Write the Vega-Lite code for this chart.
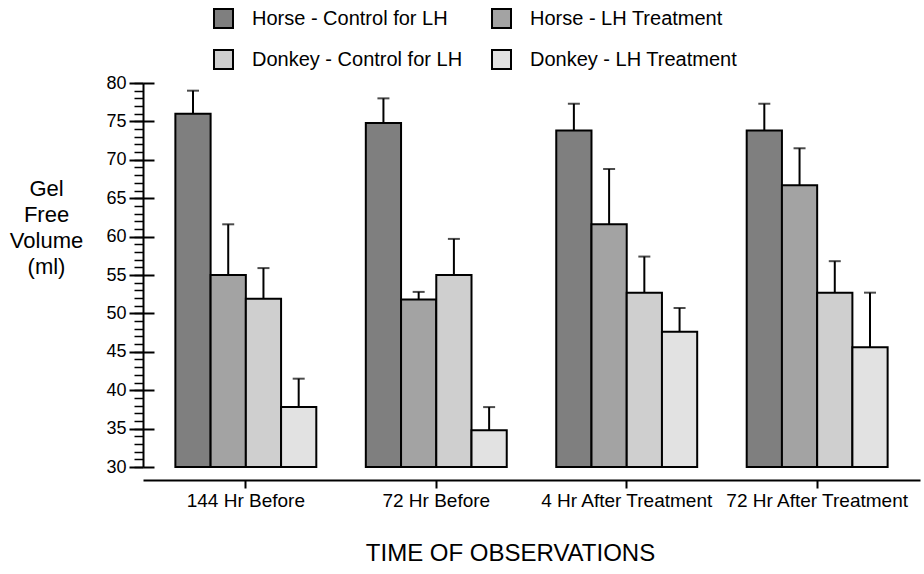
{
  "$schema": "https://vega.github.io/schema/vega-lite/v6.json",
  "autosize": {"type": "none"},
  "padding": {"left": 143, "top": 83, "right": 4, "bottom": 107},
  "width": 777,
  "height": 384,
  "background": "white",
  "config": {
    "view": {"stroke": null},
    "font": "Liberation Sans, Arial, Helvetica, sans-serif",
    "axis": {"domainColor": "black", "tickColor": "black", "labelColor": "black", "titleColor": "black", "grid": false}
  },
  "data": {
    "values": [
      {"time": "144 Hr Before", "group": "Horse - Control for LH", "value": 76, "upper": 79},
      {"time": "144 Hr Before", "group": "Horse - LH Treatment", "value": 55, "upper": 61.6},
      {"time": "144 Hr Before", "group": "Donkey - Control for LH", "value": 51.9, "upper": 55.9},
      {"time": "144 Hr Before", "group": "Donkey - LH Treatment", "value": 37.8, "upper": 41.5},
      {"time": "72 Hr Before", "group": "Horse - Control for LH", "value": 74.8, "upper": 78},
      {"time": "72 Hr Before", "group": "Horse - LH Treatment", "value": 51.8, "upper": 52.8},
      {"time": "72 Hr Before", "group": "Donkey - Control for LH", "value": 55, "upper": 59.7},
      {"time": "72 Hr Before", "group": "Donkey - LH Treatment", "value": 34.8, "upper": 37.8},
      {"time": "4 Hr After Treatment", "group": "Horse - Control for LH", "value": 73.8, "upper": 77.3},
      {"time": "4 Hr After Treatment", "group": "Horse - LH Treatment", "value": 61.6, "upper": 68.8},
      {"time": "4 Hr After Treatment", "group": "Donkey - Control for LH", "value": 52.7, "upper": 57.4},
      {"time": "4 Hr After Treatment", "group": "Donkey - LH Treatment", "value": 47.6, "upper": 50.7},
      {"time": "72 Hr After Treatment", "group": "Horse - Control for LH", "value": 73.8, "upper": 77.3},
      {"time": "72 Hr After Treatment", "group": "Horse - LH Treatment", "value": 66.7, "upper": 71.5},
      {"time": "72 Hr After Treatment", "group": "Donkey - Control for LH", "value": 52.7, "upper": 56.8},
      {"time": "72 Hr After Treatment", "group": "Donkey - LH Treatment", "value": 45.6, "upper": 52.7}
    ]
  },
  "encoding": {
    "x": {
      "field": "time", "type": "nominal",
      "sort": ["144 Hr Before", "72 Hr Before", "4 Hr After Treatment", "72 Hr After Treatment"],
      "scale": {"paddingInner": 0.26, "paddingOuter": 0.17},
      "axis": {
        "title": "TIME OF OBSERVATIONS", "titleFontSize": 24, "titleFontWeight": "normal", "titlePadding": 31,
        "titleX": 367, "titleAlign": "center",
        "labelAngle": 0, "labelFontSize": 19, "labelPadding": 3, "labelLimit": 300,
        "offset": 13, "tickSize": 8, "tickWidth": 2, "domainWidth": 2
      }
    },
    "xOffset": {
      "field": "group", "type": "nominal",
      "sort": ["Horse - Control for LH", "Horse - LH Treatment", "Donkey - Control for LH", "Donkey - LH Treatment"]
    }
  },
  "layer": [
    {
      "mark": {"type": "bar", "stroke": "black", "strokeWidth": 2},
      "encoding": {
        "y": {
          "field": "value", "type": "quantitative",
          "scale": {"domain": [30, 80], "nice": false, "zero": false},
          "axis": {
            "orient": "left",
            "title": ["Gel", "Free", "Volume", "(ml)"],
            "titleAngle": 0, "titleFontSize": 22, "titleFontWeight": "normal",
            "titleAlign": "center", "titleBaseline": "top", "titleLineHeight": 26,
            "titleX": -97, "titleY": 95,
            "values": [30, 35, 40, 45, 50, 55, 60, 65, 70, 75, 80],
            "labelFontSize": 18, "labelPadding": 3, "tickSize": 14, "tickWidth": 2, "domainWidth": 2
          }
        },
        "y2": {"datum": 30},
        "fill": {
          "field": "group", "type": "nominal",
          "sort": ["Horse - Control for LH", "Horse - LH Treatment", "Donkey - Control for LH", "Donkey - LH Treatment"],
          "scale": {"range": ["#7f7f7f", "#a3a3a3", "#cfcfcf", "#e2e2e2"]},
          "legend": {
            "title": null, "orient": "none", "legendX": 70, "legendY": -75,
            "columns": 2, "direction": "horizontal", "padding": 0,
            "symbolType": "square", "symbolSize": 361, "symbolStrokeColor": "black", "symbolStrokeWidth": 2,
            "labelFontSize": 20, "labelOffset": 18, "labelColor": "black", "labelLimit": 400,
            "rowPadding": 14, "columnPadding": 25
          }
        }
      }
    },
    {
      "mark": {"type": "rule", "color": "black", "strokeWidth": 2},
      "encoding": {
        "y": {
          "field": "value", "type": "quantitative",
          "axis": {
            "orient": "left", "title": null, "labels": false, "domain": false,
            "values": [30,31,32,33,34,35,36,37,38,39,40,41,42,43,44,45,46,47,48,49,50,51,52,53,54,55,56,57,58,59,60,61,62,63,64,65,66,67,68,69,70,71,72,73,74,75,76,77,78,79,80],
            "tickSize": 9, "tickWidth": 1.5
          }
        },
        "y2": {"field": "upper"}
      }
    },
    {
      "mark": {"type": "tick", "color": "black", "size": 12, "thickness": 2},
      "encoding": {
        "y": {
          "field": "upper", "type": "quantitative",
          "axis": {
            "orient": "left", "title": null, "labels": false, "domain": false,
            "values": [30, 35, 40, 45, 50, 55, 60, 65, 70, 75, 80],
            "tickSize": -11, "tickWidth": 2
          }
        }
      }
    },
    {
      "mark": {"type": "rule", "color": "black", "strokeWidth": 2},
      "encoding": {"y": {"datum": 30, "type": "quantitative", "axis": null}}
    }
  ],
  "resolve": {"axis": {"y": "independent"}}
}
